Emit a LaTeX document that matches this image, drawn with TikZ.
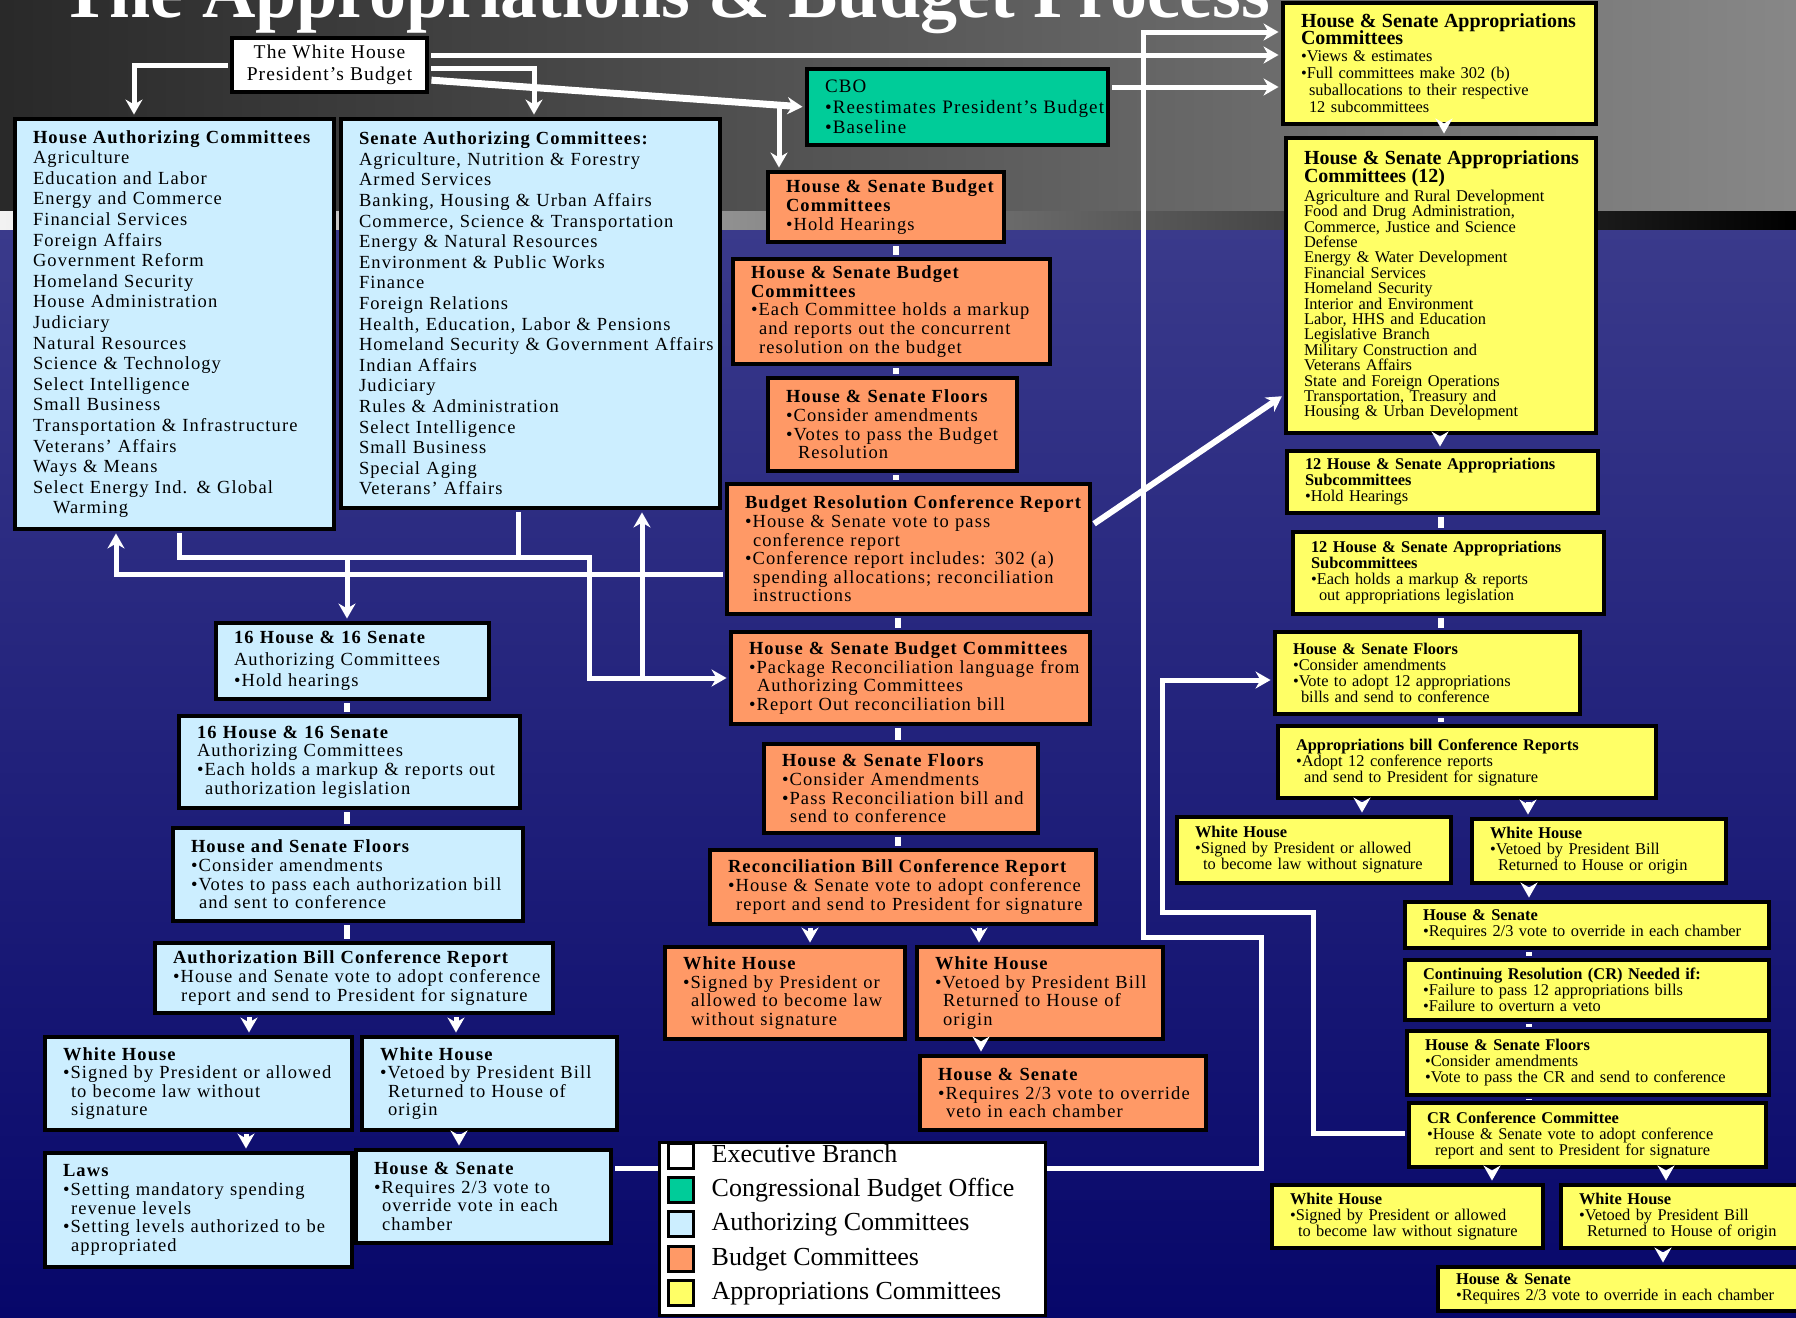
\documentclass[tikz,border=0pt]{standalone}
\usepackage{fontspec}
\setmainfont{Liberation Serif}
\newfontfamily\widefont[LetterSpace=6]{Liberation Serif}
\usetikzlibrary{arrows.meta,positioning}

\definecolor{auth}{HTML}{CCEEFF}
\definecolor{budget}{HTML}{FF9966}
\definecolor{approp}{HTML}{FFFF66}
\definecolor{cbo}{HTML}{00CC99}
\definecolor{navy}{HTML}{07076A}
\definecolor{slate}{HTML}{3A3A8B}

\newcommand{\contd}{\hspace*{8pt}}
\newcommand{\aptitle}[1]{{\fontsize{20}{17}\selectfont\bfseries #1}}

\tikzset{
  panel/.style={draw=black, line width=4.5pt, inner xsep=0pt, inner ysep=3pt, align=left,
    execute at begin node={\leftskip=18pt\rightskip=-300pt plus 1fil\lineskiplimit=-100pt\relax}},
  authbox/.style={panel, fill=auth, font=\widefont\fontsize{18.5}{18.6}\selectfont},
  listbox/.style={authbox, font=\widefont\fontsize{18.5}{20.6}\selectfont},
  budbox/.style={panel, fill=budget, font=\widefont\fontsize{18.5}{18.6}\selectfont},
  apbox/.style={panel, fill=approp, font=\fontsize{16.4}{16}\selectfont},
  link/.style={draw=white, line width=5pt, shorten <=2.2pt, shorten >=2.2pt},
  flow/.style={link, -{Stealth[length=15pt,width=17pt]}}
}

\begin{document}
\begin{tikzpicture}[x=1pt,y=-1pt]
\useasboundingbox (0,0) rectangle (1796,1317);

\begin{scope} % backdrop
  \shade[left color=black!84, right color=black!47] (0,0) rectangle (1796,212);
  \shade[top color=slate, bottom color=navy] (0,228) rectangle (1796,1317);
  \shade[left color=black!5, right color=black] (0,211) rectangle (1796,229);
\end{scope}

\node[anchor=base west, inner sep=0pt, text=white,
  font=\fontsize{74}{74}\selectfont\bfseries] (title) at (60,17)
  {The Appropriations \& Budget Process};

\begin{scope} % executive branch and CBO
  \node[draw=black, line width=4.5pt, fill=white, align=center, inner sep=0pt,
    minimum width=195, minimum height=54,
    font=\widefont\fontsize{19.5}{22}\selectfont] (wh) at (329.5,65)
    {The White House\\President’s Budget};
  \node[panel, fill=cbo, font=\widefont\fontsize{19}{20.5}\selectfont,
    text width=301pt, minimum height=76] (cbo) at (957.5,107)
    {CBO\\ •Reestimates President’s Budget\\ •Baseline};
\end{scope}

\begin{scope} % authorizing committees
  \node[listbox, text width=319pt, minimum height=410] (hauth) at (174.5,324)
    {\textbf{House Authorizing Committees}\\ Agriculture\\ Education and Labor\\
     Energy and Commerce\\ Financial Services\\ Foreign Affairs\\ Government Reform\\
     Homeland Security\\ House Administration\\ Judiciary\\ Natural Resources\\
     Science \& Technology\\ Select Intelligence\\ Small Business\\
     Transportation \& Infrastructure\\ Veterans’ Affairs\\ Ways \& Means\\
     Select Energy Ind. \& Global\\ \hspace*{20pt}Warming};
  \node[listbox, text width=379pt, minimum height=389] (sauth) at (530.5,313.5)
    {\textbf{Senate Authorizing Committees:}\\ Agriculture, Nutrition \& Forestry\\
     Armed Services\\ Banking, Housing \& Urban Affairs\\
     Commerce, Science \& Transportation\\ Energy \& Natural Resources\\
     Environment \& Public Works\\ Finance\\ Foreign Relations\\
     Health, Education, Labor \& Pensions\\ Homeland Security \& Government Affairs\\
     Indian Affairs\\ Judiciary\\ Rules \& Administration\\ Select Intelligence\\
     Small Business\\ Special Aging\\ Veterans’ Affairs};
  \node[authbox, font=\widefont\fontsize{18.5}{21.5}\selectfont,
    text width=273pt, minimum height=76] (a1) at (352.5,661)
    {\textbf{16 House \& 16 Senate}\\ Authorizing Committees\\ •Hold hearings};
  \node[authbox, text width=341pt, minimum height=92] (a2) at (349.5,762)
    {\textbf{16 House \& 16 Senate}\\ Authorizing Committees\\
     •Each holds a markup \& reports out\\ \contd authorization legislation};
  \node[authbox, text width=350pt, minimum height=93] (a3) at (348,874.5)
    {\textbf{House and Senate Floors}\\ •Consider amendments\\
     •Votes to pass each authorization bill\\ \contd and sent to conference};
  \node[authbox, text width=398pt, minimum height=70] (a4) at (354,978)
    {\textbf{Authorization Bill Conference Report}\\
     •House and Senate vote to adopt conference\\
     \contd report and send to President for signature};
  \node[authbox, text width=307pt, minimum height=93] (l1) at (198.5,1083.5)
    {\textbf{White House}\\ •Signed by President or allowed\\
     \contd to become law without\\ \contd signature};
  \node[authbox, text width=255pt, minimum height=93] (l2) at (489.5,1083.5)
    {\textbf{White House}\\ •Vetoed by President Bill\\
     \contd Returned to House of\\ \contd origin};
  \node[authbox, text width=307pt, minimum height=114] (l3) at (198.5,1210)
    {\textbf{Laws}\\ •Setting mandatory spending\\ \contd revenue levels\\
     •Setting levels authorized to be\\ \contd appropriated};
  \node[authbox, text width=255pt, minimum height=93] (l4) at (483.5,1196.5)
    {\textbf{House \& Senate}\\ •Requires 2/3 vote to\\
     \contd override vote in each\\ \contd chamber};
\end{scope}

\begin{scope} % budget committees
  \node[budbox, text width=236pt, minimum height=70] (b1) at (886,207)
    {\textbf{House \& Senate Budget}\\ \textbf{Committees}\\ •Hold Hearings};
  \node[budbox, text width=317pt, minimum height=105] (b2) at (891.5,311.5)
    {\textbf{House \& Senate Budget}\\ \textbf{Committees}\\
     •Each Committee holds a markup\\ \contd and reports out the concurrent\\
     \contd resolution on the budget};
  \node[budbox, text width=249pt, minimum height=93] (b3) at (892.5,424.5)
    {\textbf{House \& Senate Floors}\\ •Consider amendments\\
     •Votes to pass the Budget\\ \hspace*{12pt}Resolution};
  \node[budbox, text width=363pt, minimum height=130] (b4) at (908.5,549)
    {\textbf{Budget Resolution Conference Report}\\ •House \& Senate vote to pass\\
     \contd conference report\\ •Conference report includes: 302 (a)\\
     \contd spending allocations; reconciliation\\ \contd instructions};
  \node[budbox, text width=359pt, minimum height=92] (b5) at (910.5,678)
    {\textbf{House \& Senate Budget Committees}\\
     •Package Reconciliation language from\\ \contd Authorizing Committees\\
     •Report Out reconciliation bill};
  \node[budbox, text width=274pt, minimum height=89] (b6) at (901,788.5)
    {\textbf{House \& Senate Floors}\\ •Consider Amendments\\
     •Pass Reconciliation bill and\\ \contd send to conference};
  \node[budbox, text width=386pt, minimum height=74] (b7) at (903,887)
    {\textbf{Reconciliation Bill Conference Report}\\
     •House \& Senate vote to adopt conference\\
     \contd report and send to President for signature};
  \node[budbox, text width=240pt, minimum height=92] (b8) at (785,993)
    {\textbf{White House}\\ •Signed by President or\\
     \contd allowed to become law\\ \contd without signature};
  \node[budbox, text width=246pt, minimum height=92] (b9) at (1040,993)
    {\textbf{White House}\\ •Vetoed by President Bill\\
     \contd Returned to House of\\ \contd origin};
  \node[budbox, text width=286pt, minimum height=74] (b10) at (1063,1093)
    {\textbf{House \& Senate}\\ •Requires 2/3 vote to override\\
     \contd veto in each chamber};
\end{scope}

\begin{scope} % appropriations committees
  \node[apbox, font=\fontsize{16.4}{17}\selectfont, text width=313pt,
    minimum height=121] (ap1) at (1439.5,63.5)
    {\aptitle{House \& Senate Appropriations}\\ \aptitle{Committees}\\
     •Views \& estimates\\ •Full committees make 302 (b)\\
     \contd suballocations to their respective\\ \contd 12 subcommittees};
  \node[apbox, font=\fontsize{16.4}{15.4}\selectfont, text width=310pt,
    minimum height=295] (ap2) at (1441,285.5)
    {\aptitle{House \& Senate Appropriations}\\[3pt] \aptitle{Committees (12)}\\[3pt]
     Agriculture and Rural Development\\ Food and Drug Administration,\\
     Commerce, Justice and Science\\ Defense\\ Energy \& Water Development\\
     Financial Services\\ Homeland Security\\ Interior and Environment\\
     Labor, HHS and Education\\ Legislative Branch\\ Military Construction and\\
     Veterans Affairs\\ State and Foreign Operations\\
     Transportation, Treasury and\\ Housing \& Urban Development};
  \node[apbox, text width=311pt, minimum height=62] (ap3) at (1442.5,482)
    {\textbf{12 House \& Senate Appropriations}\\ \textbf{Subcommittees}\\
     •Hold Hearings};
  \node[apbox, text width=311pt, minimum height=82] (ap4) at (1448.5,573)
    {\textbf{12 House \& Senate Appropriations}\\ \textbf{Subcommittees}\\
     •Each holds a markup \& reports\\ \contd out appropriations legislation};
  \node[apbox, text width=305pt, minimum height=82] (ap5) at (1427.5,673)
    {\textbf{House \& Senate Floors}\\ •Consider amendments\\
     •Vote to adopt 12 appropriations\\ \contd bills and send to conference};
  \node[apbox, text width=378pt, minimum height=72] (ap6) at (1467,762)
    {\textbf{Appropriations bill Conference Reports}\\
     •Adopt 12 conference reports\\ \contd and send to President for signature};
  \node[apbox, text width=274pt, minimum height=66] (ap7) at (1314,850)
    {\textbf{White House}\\ •Signed by President or allowed\\
     \contd to become law without signature};
  \node[apbox, text width=254pt, minimum height=64] (ap8) at (1599,851)
    {\textbf{White House}\\ •Vetoed by President Bill\\
     \contd Returned to House or origin};
  \node[apbox, text width=364pt, minimum height=46] (ap9) at (1587,925)
    {\textbf{House \& Senate}\\ •Requires 2/3 vote to override in each chamber};
  \node[apbox, text width=364pt, minimum height=60] (ap10) at (1587,990)
    {\textbf{Continuing Resolution (CR) Needed if:}\\
     •Failure to pass 12 appropriations bills\\ •Failure to overturn a veto};
  \node[apbox, text width=362pt, minimum height=64] (ap11) at (1588,1063)
    {\textbf{House \& Senate Floors}\\ •Consider amendments\\
     •Vote to pass the CR and send to conference};
  \node[apbox, text width=357pt, minimum height=64] (ap12) at (1587.5,1135)
    {\textbf{CR Conference Committee}\\ •House \& Senate vote to adopt conference\\
     \contd report and sent to President for signature};
  \node[apbox, text width=271pt, minimum height=63] (ap13) at (1407.5,1216.5)
    {\textbf{White House}\\ •Signed by President or allowed\\
     \contd to become law without signature};
  \node[apbox, text width=239pt, minimum height=63] (ap14) at (1680.5,1216.5)
    {\textbf{White House}\\ •Vetoed by President Bill\\
     \contd Returned to House of origin};
  \node[apbox, text width=362pt, minimum height=44] (ap15) at (1619,1289)
    {\textbf{House \& Senate}\\ •Requires 2/3 vote to override in each chamber};
\end{scope}

\begin{scope} % arrows out of the White House
  \draw[flow] (wh.west) -| (hauth.north -| 134,0);
  \draw[flow] (wh.east |- 0,68) -| (sauth.north -| 534,0);
  \draw[flow] (wh.east |- 0,55) -- (ap1.west |- 0,55);
  \draw[flow, line width=7pt] (wh.east |- 0,80) -- (cbo.west);
  \coordinate (fork) at (779,105);
  \draw[flow] (fork) -- (fork |- b1.north);
  \draw[flow] (cbo.east |- 0,87) -- (ap1.west |- 0,87);
\end{scope}

\begin{scope} % authorizing flow
  \coordinate (hbus) at (589,557);
  \draw[flow] (hauth.south -| 179,0) |- (hbus) |- (b5.west);
  \draw[link] (sauth.south -| 518,0) -- (hbus -| 518,0);
  \draw[flow] (hbus -| 347,0) -- (a1.north -| 347,0);
  \draw[flow] (b5.west -| 642,0) -- (sauth.south -| 642,0);
  \draw[flow] (b4.west |- 0,574) -| (hauth.south -| 116,0);
  \foreach \u/\v in {a1/a2,a2/a3,a3/a4}
    \draw[link, line width=6pt] (\u.south -| 347,0) -- (\v.north -| 347,0);
  \draw[flow] (a4.south -| 249,0) -- (l1.north -| 249,0);
  \draw[flow] (a4.south -| 456,0) -- (l2.north -| 456,0);
  \draw[flow] (l1.south -| 246,0) -- (l3.north -| 246,0);
  \draw[flow] (l2.south -| 459,0) -- (l4.north -| 459,0);
\end{scope}

\begin{scope} % budget flow
  \foreach \u/\v/\x in {b1/b2/896,b2/b3/896,b3/b4/896,b4/b5/898,b5/b6/898,b6/b7/898}
    \draw[link, line width=6pt] (\u.south -| \x,0) -- (\v.north -| \x,0);
  \draw[flow] (b7.south -| 810,0) -- (b8.north -| 810,0);
  \draw[flow] (b7.south -| 979,0) -- (b9.north -| 979,0);
  \draw[flow] (b9.south -| 981,0) -- (b10.north -| 981,0);
  \draw[flow, line width=6pt] (b4.east |- 0,525) -- (ap2.west |- 0,395);
\end{scope}

\begin{scope} % appropriations flow
  \draw[flow] (ap1.south -| 1444,0) -- (ap2.north -| 1444,0);
  \draw[flow] (ap2.south -| 1440,0) -- (ap3.north -| 1440,0);
  \foreach \u/\v in {ap3/ap4,ap4/ap5,ap5/ap6}
    \draw[link, line width=6pt] (\u.south -| 1441,0) -- (\v.north -| 1441,0);
  \draw[flow] (ap6.south -| 1362,0) -- (ap7.north -| 1362,0);
  \draw[flow] (ap6.south -| 1528,0) -- (ap8.north -| 1528,0);
  \draw[flow] (ap8.south -| 1529,0) -- (ap9.north -| 1529,0);
  \foreach \u/\v in {ap9/ap10,ap10/ap11,ap11/ap12}
    \draw[link, line width=6pt] (\u.south -| 1529,0) -- (\v.north -| 1529,0);
  \draw[flow] (ap12.south -| 1492,0) -- (ap13.north -| 1492,0);
  \draw[flow] (ap12.south -| 1666,0) -- (ap14.north -| 1666,0);
  \draw[flow] (ap14.south -| 1663,0) -- (ap15.north -| 1663,0);
  % long returns
  \draw[flow] (l4.east |- 0,1168) -| (1261,937) -| (1143,32) -- (ap1.west |- 0,32);
  \draw[flow] (ap12.west |- 0,1133) -| (1313,912) -| (1162,680) -- (ap5.west |- 0,680);
\end{scope}

\begin{scope}[swatch/.style={draw=black, line width=3pt, minimum size=25pt, inner sep=0pt},
  legtext/.style={inner sep=0pt, text height=18pt, text depth=5pt,
    font=\fontsize{26}{26}\selectfont}] % legend
  \node[draw=black, line width=3pt, fill=white, minimum width=386,
    minimum height=173] (legend) at (852,1228.5) {};
  \foreach \col/\txt [count=\i] in {white/Executive Branch,
      cbo/Congressional Budget Office, auth/Authorizing Committees,
      budget/Budget Committees, approp/Appropriations Committees} {
    \node[swatch, fill=\col] (sw\i) at (680.5,1121.8+34.2*\i) {};
    \node[legtext, right=17pt of sw\i] (lg\i) {\txt};
  }
\end{scope}

\end{tikzpicture}
\end{document}
